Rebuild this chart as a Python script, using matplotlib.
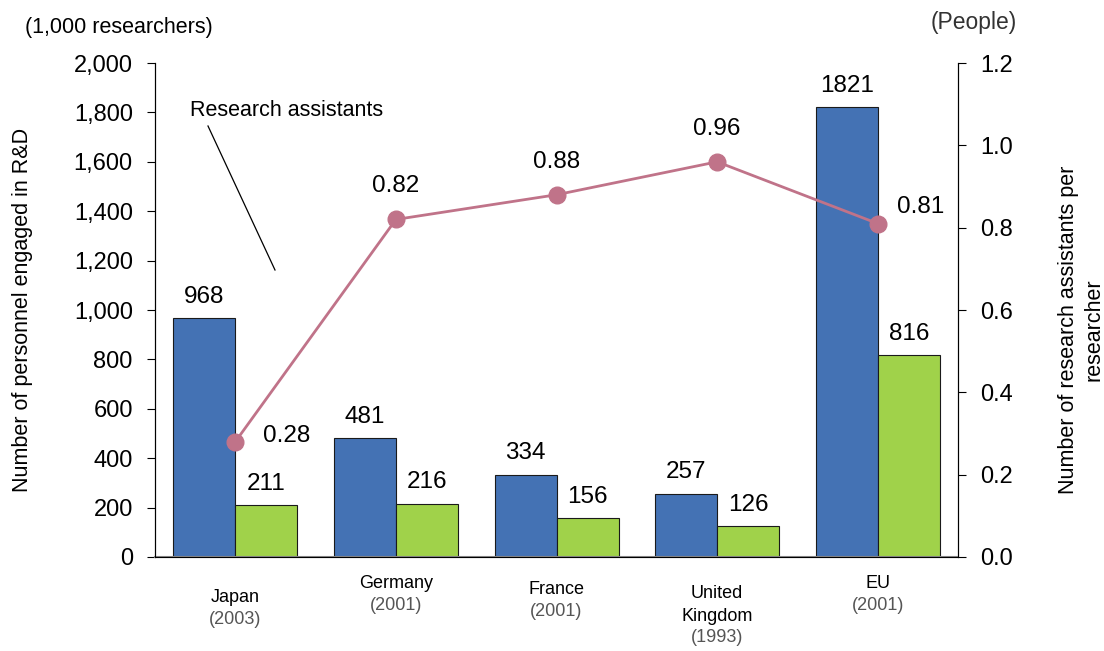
import numpy as np
import matplotlib.pyplot as plt
import matplotlib.transforms as mtransforms

plt.rcParams['font.family'] = ['Liberation Sans', 'DejaVu Sans']

# ----Data----
countries = ["Japan", "Germany", "France", "United\nKingdom", "EU"]
years = ["(2003)", "(2001)", "(2001)", "(1993)", "(2001)"]
researchers = [968, 481, 334, 257, 1821]
assistants = [211, 216, 156, 126, 816]
ratio = [0.28, 0.82, 0.88, 0.96, 0.81]

blue = "#4472B4"
green = "#A0D24A"
pink = "#C07389"

fig = plt.figure(figsize=(11.04, 6.51), dpi=100)
ax = fig.add_axes([0.1404, 0.1444, 0.7274, 0.7588])
ax2 = ax.twinx()

x = np.arange(len(countries))
w = 0.386
ax.bar(x - w / 2, researchers, w, color=blue, edgecolor="#1a1a1a", linewidth=0.8)
ax.bar(x + w / 2, assistants, w, color=green, edgecolor="#1a1a1a", linewidth=0.8)

for xi, v in zip(x, researchers):
    ax.text(xi - w / 2, v + 42, str(v), ha="center", va="bottom", fontsize=17.5)
for xi, v in zip(x, assistants):
    ax.text(xi + w / 2, v + 42, str(v), ha="center", va="bottom", fontsize=17.5)

ax.set_xlim(-0.5, 4.5)
ax.set_ylim(0, 2000)
ax.set_yticks(np.arange(0, 2001, 200))
ax.set_yticklabels([f"{v:,}" for v in range(0, 2001, 200)], fontsize=17)
ax.set_xticks([])
ax.tick_params(axis="y", direction="out", length=6, pad=10)

ax2.plot(x, ratio, color=pink, lw=2, marker="o", ms=12, zorder=5)
ax2.set_ylim(0, 1.2)
ax2.set_yticks(np.arange(0, 1.21, 0.2))
ax2.set_yticklabels([f"{v:.1f}" for v in np.arange(0, 1.21, 0.2)], fontsize=17)
ax2.tick_params(axis="y", direction="out", length=6, pad=10)

# point labels: first and last to the right, others above
offsets = [(20, 4, "left", "center"), (0, 16, "center", "bottom"), (0, 16, "center", "bottom"),
           (0, 16, "center", "bottom"), (14, 12, "left", "center")]
for xi, v, (dx, dy, ha, va) in zip(x, ratio, offsets):
    ax2.annotate(f"{v:.2f}", (xi, v), xytext=(dx, dy), textcoords="offset points",
                 ha=ha, va=va, fontsize=17.5)

for a in (ax, ax2):
    a.spines["top"].set_visible(False)
ax.spines["bottom"].set_color("#888888")
ax.spines["bottom"].set_linewidth(1.5)

# category labels
trans = mtransforms.blended_transform_factory(ax.transData, fig.transFigure)
name_y = [598, 583, 590, 605, 583]
for xi, name, yr, ny in zip(x, countries, years, name_y):
    n_lines = name.count("\n") + 1
    ax.text(xi, 1 - ny / 651, name, transform=trans, ha="center", va="center",
            fontsize=13, linespacing=1.4)
    yy = ny + 22 * n_lines - (11 if n_lines > 1 else 0)
    ax.text(xi, 1 - yy / 651, yr, transform=trans, ha="center", va="center",
            fontsize=13, color="#555555")

ax.set_ylabel("Number of personnel engaged in R&D", fontsize=15.5, labelpad=29)
fig.text(1081 / 1104, 1 - 330 / 651, "Number of research assistants per\nresearcher",
         rotation=90, fontsize=15.5, ha="center", va="center", multialignment="center",
         linespacing=1.3)
fig.text(25 / 1104, 1 - 28 / 651, "(1,000 researchers)", fontsize=15.5, va="center", ha="left")
fig.text(1017 / 1104, 1 - 22 / 651, "(People)", fontsize=16.5, va="center", ha="right", color="#333333")

# annotation for the line
fig.text(190 / 1104, 1 - 110 / 651, "Research assistants", fontsize=15.5, va="center", ha="left")
fig.add_artist(plt.Line2D([208 / 1104, 275 / 1104], [1 - 126 / 651, 1 - 270 / 651],
                          color="black", lw=0.9, transform=fig.transFigure))

plt.savefig("out.png", dpi=100)
